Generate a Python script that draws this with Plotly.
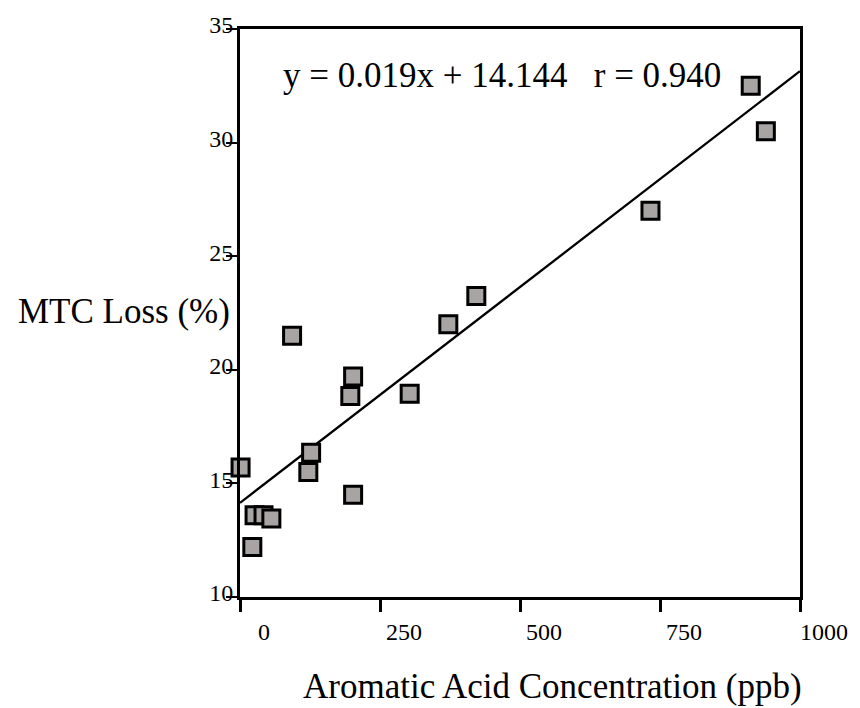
import plotly.graph_objects as go

# Data
conc_ppb = [1, 22, 26, 42, 56, 93, 122, 127, 197, 202, 202, 303, 372, 422, 733, 912, 939]
mtc_loss = [15.7, 12.2, 13.6, 13.6, 13.45, 21.5, 15.5, 16.35, 18.85, 19.7, 14.5, 18.95, 22.0, 23.25, 27.0, 32.5, 30.5]

slope = 0.019
intercept = 14.144
r_value = 0.940
fit_x = [0, 1000]
fit_y = [intercept + slope * v for v in fit_x]

x_ticks = [0, 250, 500, 750, 1000]
y_ticks = [10, 15, 20, 25, 30, 35]

FONT = "Liberation Serif"

fig = go.Figure()
fig.add_trace(go.Scatter(
    x=fit_x, y=fit_y, mode="lines",
    line=dict(color="black", width=2.3), hoverinfo="skip", showlegend=False,
))
fig.add_trace(go.Scatter(
    x=conc_ppb, y=mtc_loss, mode="markers",
    marker=dict(symbol="square", size=17, color="#a9a4a4",
                line=dict(color="black", width=3)),
    cliponaxis=False, showlegend=False,
))

fig.update_layout(
    width=860, height=708,
    margin=dict(l=240, r=53, t=29, b=111),
    paper_bgcolor="white", plot_bgcolor="white",
    font=dict(family=FONT, color="black", size=24),
    xaxis=dict(
        range=[0, 1000], tickvals=x_ticks, ticktext=[str(v) for v in x_ticks],
        showgrid=False, zeroline=False, showline=True, linecolor="black", linewidth=3,
        mirror=True, ticks="outside", ticklen=12, tickwidth=2.5, tickcolor="black",
        ticklabelshift=24, ticklabelstandoff=-1,
        tickfont=dict(family=FONT, size=24, color="black"),
    ),
    yaxis=dict(
        range=[10, 35], tickvals=y_ticks, ticktext=[str(v) for v in y_ticks],
        showgrid=False, zeroline=False, showline=True, linecolor="black", linewidth=3,
        mirror=True, ticks="outside", ticklen=11, tickwidth=1.5, tickcolor="black",
        ticklabelshift=-4, ticklabelstandoff=-12,
        tickfont=dict(family=FONT, size=24, color="black"),
    ),
    annotations=[
        dict(text="MTC Loss (%)", xref="paper", yref="paper", x=(13 - 240) / 568, y=(597 - 311) / 568,
             xanchor="left", yanchor="middle", showarrow=False,
             font=dict(family=FONT, size=35, color="black")),
        dict(text="Aromatic Acid Concentration (ppb)", xref="paper", yref="paper",
             x=(557 - 240) / 568, y=(597 - 686) / 568,
             xanchor="center", yanchor="middle", showarrow=False,
             font=dict(family=FONT, size=35, color="black")),
        dict(text=f"y = {slope:.3f}x + {intercept:.3f}   r = {r_value:.3f}",
             xref="paper", yref="paper", x=(282 - 240) / 568, y=(597 - 75) / 568,
             xanchor="left", yanchor="middle", showarrow=False,
             font=dict(family=FONT, size=35, color="black")),
    ],
)

fig.write_html("out.html")
